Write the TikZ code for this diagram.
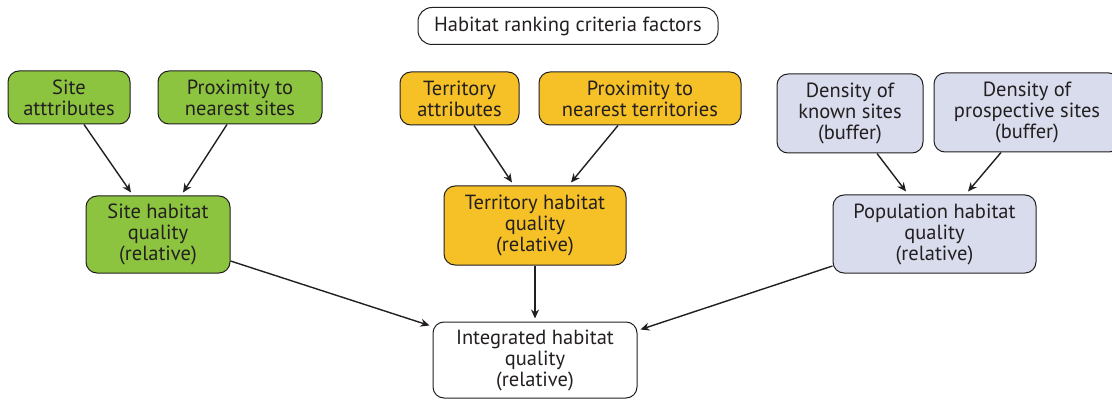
\documentclass[tikz,border=0pt]{standalone}
\usepackage{fontspec}
\setmainfont{PT Sans}
\usetikzlibrary{arrows.meta}
\definecolor{gbox}{HTML}{8CC43F}
\definecolor{ybox}{HTML}{F5C127}
\definecolor{lbox}{HTML}{D8DCED}
\definecolor{edge}{HTML}{231F20}
\begin{document}
\begin{tikzpicture}[x=1pt,y=-1pt,
  box/.style={draw=edge,line width=1pt,rounded corners=11pt,align=center,inner sep=0pt,
    font=\fontsize{20.5}{21}\selectfont,text=edge},
  arr/.style={draw=edge,line width=1.4pt,-{Stealth[length=9pt,width=8pt]}}]
\useasboundingbox (0,0) rectangle (1112,401);
\node[box,minimum width=300pt,minimum height=37pt,rounded corners=14pt,fill=white] (title) at (568,26) {Habitat ranking criteria factors};
\node[box,fill=gbox,minimum width=122pt,minimum height=53pt] (sa) at (69,97.5) {Site\\atttributes};
\node[box,fill=gbox,minimum width=164pt,minimum height=53pt] (ps) at (240,97.5) {Proximity to\\nearest sites};
\node[box,fill=gbox,minimum width=144pt,minimum height=77pt] (shq) at (158,234.5) {Site habitat\\quality\\(relative)};
\node[box,fill=ybox,minimum width=119pt,minimum height=53pt] (ta) at (459.5,98.5) {Territory\\attributes};
\node[box,fill=ybox,minimum width=202pt,minimum height=53pt] (pt) at (640,98.5) {Proximity to\\nearest territories};
\node[box,fill=ybox,minimum width=182pt,minimum height=79pt] (thq) at (535,225.5) {Territory habitat\\quality\\(relative)};
\node[box,fill=lbox,minimum width=146pt,minimum height=79pt] (ks) at (850,113.5) {Density of\\known sites\\(buffer)};
\node[box,fill=lbox,minimum width=186pt,minimum height=79pt] (pr) at (1027,112.5) {Density of\\prospective sites\\(buffer)};
\node[box,fill=lbox,minimum width=203pt,minimum height=78pt] (phq) at (934.5,234) {Population habitat\\quality\\(relative)};
\node[box,fill=white,minimum width=204pt,minimum height=76pt] (int) at (535,360) {Integrated habitat\\quality\\(relative)};
\draw[arr] ([xshift=15pt]sa.south) -- ([xshift=-27pt,yshift=3pt]shq.north);
\draw[arr] ([xshift=-13pt]ps.south) -- ([xshift=25pt,yshift=3pt]shq.north);
\draw[arr] ([xshift=14.5pt]ta.south) -- ([xshift=-23pt,yshift=3pt]thq.north);
\draw[arr] ([xshift=-22pt]pt.south) -- ([xshift=36pt,yshift=3pt]thq.north);
\draw[arr] ([xshift=27pt]ks.south) -- ([xshift=-28.5pt,yshift=3pt]phq.north);
\draw[arr] ([xshift=-26pt]pr.south) -- ([xshift=33.5pt,yshift=3pt]phq.north);
\draw[arr] ([yshift=-26.5pt]shq.east) -- ([xshift=-3pt,yshift=-4pt]int.north west);
\draw[arr] (thq.south) -- ([yshift=3pt]int.north);
\draw[arr] ([yshift=-32pt]phq.west) -- ([xshift=3pt,yshift=-8pt]int.north east);
\end{tikzpicture}
\end{document}
